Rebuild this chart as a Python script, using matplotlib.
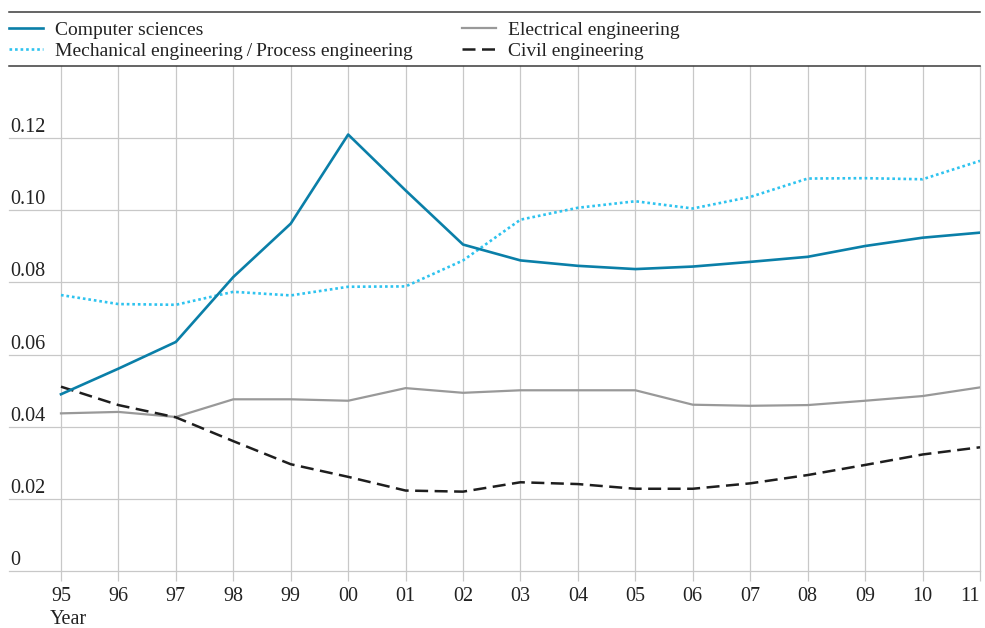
import matplotlib
matplotlib.use("Agg")
import matplotlib.pyplot as plt
from matplotlib.lines import Line2D
from matplotlib.transforms import blended_transform_factory, offset_copy

plt.rcParams['font.family'] = ['Liberation Serif', 'DejaVu Serif']

# data
years = ['95', '96', '97', '98', '99', '00', '01', '02', '03', '04', '05',
         '06', '07', '08', '09', '10', '11']
computer = [0.0490, 0.0561, 0.0635, 0.0815, 0.0963, 0.1210, 0.1055, 0.0905, 0.0861,
            0.0846, 0.0837, 0.0844, 0.0857, 0.0871, 0.0901, 0.0924, 0.0938]
mechanical = [0.0765, 0.0740, 0.0738, 0.0774, 0.0764, 0.0788, 0.0789, 0.0861, 0.0974,
              0.1007, 0.1025, 0.1005, 0.1037, 0.1088, 0.1089, 0.1086, 0.1137]
electrical = [0.0437, 0.0441, 0.0427, 0.0476, 0.0476, 0.0472, 0.0507, 0.0494, 0.0501,
              0.0501, 0.0501, 0.0461, 0.0458, 0.0460, 0.0472, 0.0485, 0.0509]
civil = [0.0511, 0.0460, 0.0426, 0.0360, 0.0296, 0.0261, 0.0223, 0.0220, 0.0246,
         0.0241, 0.0228, 0.0228, 0.0243, 0.0266, 0.0294, 0.0323, 0.0343]
yticks = [0, 0.02, 0.04, 0.06, 0.08, 0.10, 0.12]
ytick_labels = ['0', '0.02', '0.04', '0.06', '0.08', '0.10', '0.12']

W, H = 985, 628
fig = plt.figure(figsize=(W / 100, H / 100), dpi=100)
# axes box in pixels: left 9, right 980, top 66, bottom 571
ax = fig.add_axes([9 / W, 1 - 571 / H, (980 - 9) / W, (571 - 66) / H])

x = list(range(len(years)))
grid_c = '#c8c8c8'

ax.plot(x, computer, color='#0a7fa8', lw=1.9, label='Computer sciences', zorder=5)
ax.plot(x, mechanical, color='#2ec3ef', lw=1.9, dashes=(1, 1.1),
        label='Mechanical engineering\u2009/\u2009Process engineering', zorder=4)
ax.plot(x, electrical, color='#999999', lw=1.6, label='Electrical engineering', zorder=3)
ax.plot(x, civil, color='#1e1e1e', lw=1.8, dashes=(5.2, 2.6),
        label='Civil engineering', zorder=3)

ax.set_xlim(-0.905, 16)
ax.set_ylim(0, 0.14)

ax.set_xticks(x)
ax.set_xticklabels(years)
ax.set_yticks(yticks)
ax.set_yticklabels([])
ax.tick_params(axis='y', length=0)
ax.tick_params(axis='x', length=7.2, width=0.9, color=grid_c, pad=4,
               labelsize=14.5, labelcolor='#222222')
ax.get_xticklabels()[-1].set_horizontalalignment('right')
ax.grid(True, color=grid_c, lw=0.9)
for gl in ax.get_xgridlines() + ax.get_ygridlines():
    gl.set_clip_on(False)
ax.set_axisbelow(True)

for s in ['left', 'right', 'bottom']:
    ax.spines[s].set_visible(False)
ax.spines['top'].set_color('#3a3a3a')
ax.spines['top'].set_linewidth(1.1)

# y tick labels sit above their gridlines, left aligned
trans = blended_transform_factory(ax.transAxes, ax.transData)
trans = offset_copy(trans, fig=fig, x=1, y=1, units='dots')
for v, lab in zip(yticks, ytick_labels):
    ax.text(0, v, lab, transform=trans, ha='left', va='bottom',
            fontsize=14.5, color='#222222')

fig.text(50 / W, 1 - 624 / H, 'Year', ha='left', va='baseline', fontsize=14.5,
         color='#222222')

# legend area with line above it
fig.add_artist(Line2D([9 / W, 980 / W], [1 - 12 / H, 1 - 12 / H],
                      color='#3a3a3a', lw=1.1, transform=fig.transFigure))

handles, labels = ax.get_legend_handles_labels()
kw = dict(frameon=False, fontsize=14, handlelength=1.75, handletextpad=0.6,
          labelspacing=0.2, borderpad=0, borderaxespad=0, ncol=1)
leg1 = fig.legend(handles[:2], labels[:2], loc='upper left',
                  bbox_to_anchor=(9 / W, 1 - 21 / H), **kw)
for t in leg1.get_texts():
    t.set_color('#222222')
leg2 = fig.legend(handles[2:], labels[2:], loc='upper left',
                  bbox_to_anchor=(462 / W, 1 - 21 / H), **kw)
for t in leg2.get_texts():
    t.set_color('#222222')

fig.savefig('out.png', dpi=100)
